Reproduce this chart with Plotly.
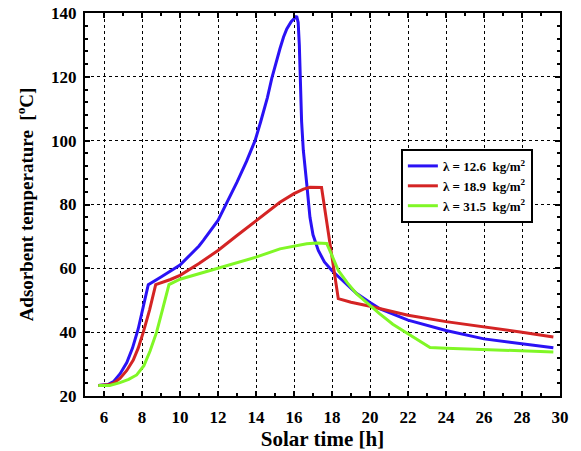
import plotly.graph_objects as go

# Data
blue_x = [5.7, 6.2, 6.5, 6.85, 7.2, 7.5, 7.8, 8.05, 8.33, 9, 10, 11, 11.23, 12, 12.42, 13, 13.5, 13.95,
          14.25, 14.6, 14.83, 15.0, 15.26, 15.45, 15.62, 15.85, 16.05, 16.14, 16.22, 16.28, 16.4, 16.49,
          16.67, 16.84, 17.0, 17.28, 17.6, 17.98, 18.5, 19.3, 20, 20.5, 22, 23.16, 24, 26, 28, 29.65]
blue_y = [23.3, 23.6, 24.5, 27, 30.5, 35, 41, 47.5, 54.9, 57.3, 61, 67, 68.75, 75, 80, 87, 93.5, 100,
          106, 113.5, 119.5, 123.5, 128.8, 132.5, 135, 137.3, 138.6, 139, 137, 130, 106, 97,
          86.5, 76, 70.5, 65.6, 62, 59.4, 56.5, 52.1, 49.3, 47.4, 43.75, 42, 40.5, 37.9, 36.3, 35.1]

red_x = [5.7, 6.2, 6.5, 6.84, 7.2, 7.54, 7.8, 8.07, 8.4, 8.72, 9.5, 10, 11, 12, 13, 14, 15.26, 16,
         16.5, 16.84, 17.3, 17.45, 18.33, 19, 20, 22, 24, 26, 28, 29.65]
red_y = [23.3, 23.5, 24, 25.5, 28, 31.25, 35, 40, 47, 54.9, 56.5, 57.8, 61.5, 65.6, 70.3, 75, 80.7, 83.4,
         84.8, 85.4, 85.5, 85.3, 50.5, 49.4, 48.1, 45.3, 43.3, 41.7, 40, 38.5]

green_x = [5.7, 6.3, 6.84, 7.3, 7.72, 8.1, 8.42, 8.77, 9.1, 9.42, 10, 11, 12, 13, 14, 15.26, 16, 16.67,
           17.2, 17.72, 18.0, 18.33, 18.8, 19.3, 20, 20.5, 21.2, 22, 22.6, 23.16, 24, 26, 28, 29.65]
green_y = [23.3, 23.3, 24.2, 25.2, 26.6, 29.5, 34, 40, 47.5, 54.9, 56.6, 58.3, 60, 61.8, 63.5, 66.1,
           66.9, 67.7, 67.9, 67.8, 64, 59.4, 55.5, 52, 48.4, 45.8, 42.5, 39.6, 37.3, 35.2, 35, 34.6, 34.2, 33.8]

names = ["λ = 12.6  kg/m<sup>2</sup>", "λ = 18.9  kg/m<sup>2</sup>", "λ = 31.5  kg/m<sup>2</sup>"]
colors = ["#2a12f5", "#d42424", "#80f726"]

x_ticks = list(range(6, 31, 2))
y_ticks = list(range(20, 141, 20))

fig = go.Figure()
for xs, ys, nm, c in zip([blue_x, red_x, green_x], [blue_y, red_y, green_y], names, colors):
    fig.add_trace(go.Scatter(x=xs, y=ys, mode="lines", name=nm,
                             line=dict(color=c, width=3)))

font_family = "Liberation Serif"
axis_common = dict(
    showline=True, linecolor="black", linewidth=2, mirror="ticks",
    ticks="inside", ticklen=5, tickwidth=1.5, tickcolor="black",
    showgrid=True, gridcolor="black", gridwidth=1, griddash="dot",
    zeroline=False, automargin=False,
    tickfont=dict(family=font_family, size=17, color="black", weight="bold"),
)

fig.update_xaxes(range=[5, 30], tickvals=x_ticks, ticklabelstandoff=5,
                 minor=dict(dtick=1, ticks="inside", ticklen=3, tickcolor="black", showgrid=False),
                 title=dict(text="<b>Solar time [h]</b>", font=dict(family=font_family, size=21, color="black"),
                            standoff=5),
                 **axis_common)
fig.update_yaxes(range=[20, 140], tickvals=y_ticks, ticklabelstandoff=3,
                 minor=dict(dtick=4, ticks="inside", ticklen=3, tickcolor="black", showgrid=False),
                 title=dict(text="<b>Adsorbent temperature  [<sup>o</sup>C]</b>",
                            font=dict(family=font_family, size=19, color="black"), standoff=12),
                 **axis_common)

fig.update_layout(
    width=581, height=451,
    margin=dict(l=85, r=21, t=13, b=55),
    plot_bgcolor="white", paper_bgcolor="white",
    legend=dict(x=0.665, y=0.645, xanchor="left", yanchor="top",
                bgcolor="white", bordercolor="black", borderwidth=2,
                font=dict(family=font_family, size=13, color="black", weight="bold"),
                itemwidth=30, tracegroupgap=0),
    showlegend=True,
)

fig.write_html("out.html")
